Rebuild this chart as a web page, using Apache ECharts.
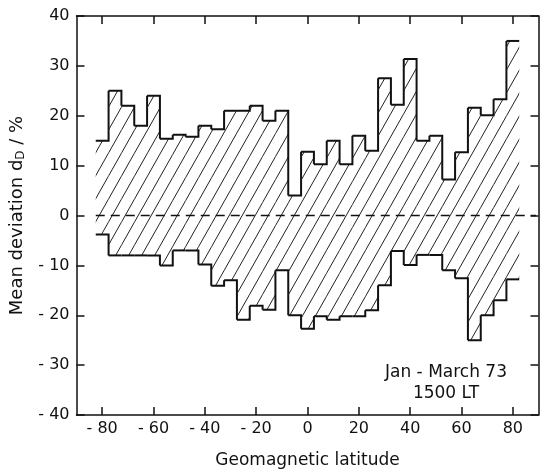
<!DOCTYPE html>
<html>
<head>
<meta charset="utf-8">
<script src="https://cdn.jsdelivr.net/npm/echarts@6/dist/echarts.min.js"></script>
<style>
  html, body { margin: 0; padding: 0; background: #fff; }
  #chart { width: 540px; height: 474px; }
</style>
</head>
<body>
<div id="chart"></div>
<script>
// 5-degree latitude bins (centres)
const binCenters = [
  -80, -75, -70, -65, -60, -55, -50, -45, -40, -35, -30,
  -25, -20, -15, -10, -5, 0, 5, 10, 15, 20, 25,
  30, 35, 40, 45, 50, 55, 60, 65, 70, 75, 80
];
const upperDeviation = [
  15, 25, 22, 18, 24, 15.4, 16.2, 15.8, 18, 17.3, 21,
  21, 22, 19, 21, 4, 12.8, 10.3, 15, 10.3, 16, 13,
  27.5, 22.2, 31.4, 15, 16, 7.2, 12.7, 21.6, 20.1, 23.3, 35
];
const lowerDeviation = [
  -3.8, -8, -8, -8, -8, -10, -7, -7, -9.8, -14.1, -13,
  -20.9, -18.1, -18.9, -11, -20, -22.7, -20.2, -20.9, -20.2, -20.2, -19,
  -14, -7.1, -9.9, -7.9, -7.9, -11, -12.6, -25, -20, -17, -12.8
];
const zeroLine = [[-82.5, 0], [89, 0]];
const xTicks = [-80, -60, -40, -20, 0, 20, 40, 60, 80];
const yTicks = [-40, -30, -20, -10, 0, 10, 20, 30, 40];
const binWidth = 5;

const FONT = "DejaVu Sans";
const INK = "#111";

function makeHatch() {
  const w = 13, h = 23;
  const c = document.createElement("canvas");
  c.width = w;
  c.height = h;
  const ctx = c.getContext("2d");
  ctx.strokeStyle = "#222";
  ctx.lineWidth = 1;
  [-w, 0, w].forEach((dx) => {
    ctx.beginPath();
    ctx.moveTo(dx, h);
    ctx.lineTo(dx + w, 0);
    ctx.stroke();
  });
  return c;
}
const hatch = { image: makeHatch(), repeat: "repeat" };

const minusFmt = (v) => (v < 0 ? "- " + Math.abs(v) : String(v));

// one hatched column per bin, plus the step outline joining it to the next bin
function renderBin(params, api) {
  const i = params.dataIndex;
  const c = api.value(0);
  const lo = api.value(1);
  const hi = api.value(2);
  const x0 = c - binWidth / 2;
  const x1 = c + binWidth / 2;
  const tl = api.coord([x0, hi]);
  const br = api.coord([x1, lo]);
  const upper = [tl, api.coord([x1, hi])];
  const lower = [api.coord([x0, lo]), br];
  if (i < binCenters.length - 1) {
    upper.push(api.coord([x1, upperDeviation[i + 1]]));
    lower.push(api.coord([x1, lowerDeviation[i + 1]]));
  }
  const outline = { stroke: INK, lineWidth: 2, fill: null, lineJoin: "miter" };
  return {
    type: "group",
    children: [
      {
        type: "rect",
        shape: { x: tl[0], y: tl[1], width: br[0] - tl[0], height: br[1] - tl[1] },
        style: { fill: hatch },
      },
      { type: "polyline", shape: { points: upper }, style: outline },
      { type: "polyline", shape: { points: lower }, style: outline },
    ],
  };
}

const chart = echarts.init(document.getElementById("chart"));

const tickStyle = { show: true, inside: true, length: 8, lineStyle: { color: INK, width: 1.5 } };
const lineAxis = { show: true, onZero: false, lineStyle: { color: INK, width: 1.5 } };

chart.setOption({
  animation: false,
  backgroundColor: "#fff",
  grid: { left: 74.5, right: 1.5, top: 16, bottom: 56 },
  xAxis: [
    {
      type: "value",
      min: -90,
      max: 90,
      axisLine: lineAxis,
      axisTick: { ...tickStyle, customValues: xTicks },
      axisLabel: {
        customValues: xTicks,
        margin: 6,
        color: INK,
        fontFamily: FONT,
        fontSize: 16,
        formatter: minusFmt,
      },
      splitLine: { show: false },
      name: "Geomagnetic latitude",
      nameLocation: "middle",
      nameGap: 37,
      nameTextStyle: { color: INK, fontFamily: FONT, fontSize: 17 },
    },
    {
      type: "value",
      position: "top",
      min: -90,
      max: 90,
      axisLine: lineAxis,
      axisTick: { ...tickStyle, customValues: xTicks },
      axisLabel: { show: false },
      splitLine: { show: false },
    },
  ],
  yAxis: [
    {
      type: "value",
      min: yTicks[0],
      max: yTicks[yTicks.length - 1],
      interval: 10,
      axisLine: lineAxis,
      axisTick: tickStyle,
      axisLabel: {
        margin: 7,
        color: INK,
        fontFamily: FONT,
        fontSize: 16,
        formatter: minusFmt,
      },
      splitLine: { show: false },
      name: "Mean deviation d{sub|D} / %",
      nameLocation: "middle",
      nameGap: 50,
      nameTextStyle: {
        color: INK,
        fontFamily: FONT,
        fontSize: 18,
        rich: { sub: { fontFamily: FONT, fontSize: 12, color: INK, verticalAlign: "bottom", padding: [7, 0, 0, 0] } },
      },
    },
    {
      type: "value",
      position: "right",
      min: yTicks[0],
      max: yTicks[yTicks.length - 1],
      interval: 10,
      axisLine: lineAxis,
      axisTick: tickStyle,
      axisLabel: { show: false },
      splitLine: { show: false },
    },
  ],
  graphic: [
    {
      type: "text",
      x: 446,
      y: 362,
      style: {
        text: "Jan - March 73\n1500 LT",
        font: `17px "${FONT}"`,
        fill: INK,
        align: "center",
        lineHeight: 21,
      },
    },
  ],
  series: [
    {
      name: "band",
      type: "custom",
      renderItem: renderBin,
      encode: { x: 0, y: [1, 2] },
      data: binCenters.map((c, i) => [c, lowerDeviation[i], upperDeviation[i]]),
      z: 3,
    },
    {
      name: "zero",
      type: "line",
      showSymbol: false,
      data: zeroLine,
      lineStyle: { color: INK, width: 1.3, type: [9, 6] },
      z: 4,
    },
  ],
});
</script>
</body>
</html>
